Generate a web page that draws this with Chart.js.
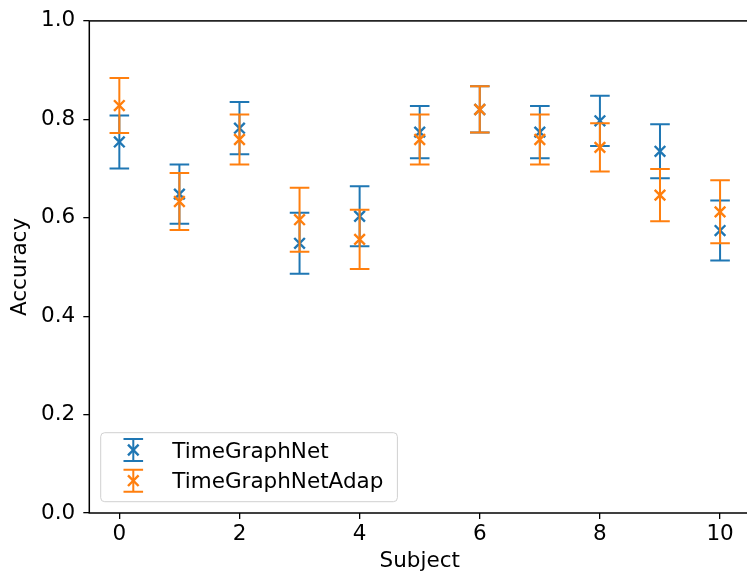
<!DOCTYPE html>
<html>
<head>
<meta charset="utf-8">
<script src="https://cdn.jsdelivr.net/npm/chart.js@4/dist/chart.umd.min.js"></script>
<style>
  html, body { margin: 0; padding: 0; overflow: hidden; background: #fff; }
  canvas { display: block; }
</style>
</head>
<body>
<canvas id="chart" width="760" height="578"></canvas>
<script>
// Per-subject accuracy (mean and spread) for both models
const subjects = [0, 1, 2, 3, 4, 5, 6, 7, 8, 9, 10];
const tgnMean  = [0.754, 0.648, 0.782, 0.548, 0.603, 0.774, 0.820, 0.774, 0.797, 0.735, 0.574];
const tgnErr   = [0.054, 0.060, 0.053, 0.062, 0.061, 0.053, 0.047, 0.053, 0.051, 0.055, 0.061];
const adapMean = [0.828, 0.633, 0.759, 0.596, 0.556, 0.759, 0.820, 0.759, 0.743, 0.646, 0.612];
const adapErr  = [0.056, 0.058, 0.051, 0.065, 0.060, 0.051, 0.047, 0.051, 0.049, 0.053, 0.064];

const seriesNames  = ['TimeGraphNet', 'TimeGraphNetAdap'];
const seriesColors = ['#1f77b4', '#ff7f0e'];
const xTicks = [0, 2, 4, 6, 8, 10];
const yTicks = [0.0, 0.2, 0.4, 0.6, 0.8, 1.0];

const FONT = { family: '"DejaVu Sans", sans-serif', size: 21.5 };
const CAP = 9.8;

function makeSeries(name, color, means, errs, order) {
  return {
    label: name,
    data: subjects.map((s, i) => ({ x: s, y: means[i] })),
    errs: errs,
    means: means,
    showLine: false,
    pointStyle: 'crossRot',
    pointRadius: 7.5,
    pointHoverRadius: 7.5,
    pointBorderWidth: 2.4,
    borderColor: color,
    backgroundColor: color,
    order: order
  };
}

// Vertical error bars with caps, drawn beneath each dataset's markers
const errorBars = {
  id: 'errorBars',
  beforeDatasetDraw(chart, args) {
    const ds = chart.data.datasets[args.index];
    const xs = chart.scales.x, ys = chart.scales.y;
    const ctx = chart.ctx;
    ctx.save();
    ctx.strokeStyle = ds.borderColor;
    ctx.lineWidth = 2;
    ds.data.forEach((p, i) => {
      const px = xs.getPixelForValue(p.x);
      const top = ys.getPixelForValue(ds.means[i] + ds.errs[i]);
      const bot = ys.getPixelForValue(ds.means[i] - ds.errs[i]);
      ctx.beginPath();
      ctx.moveTo(px, top); ctx.lineTo(px, bot);
      ctx.moveTo(px - CAP, top); ctx.lineTo(px + CAP, top);
      ctx.moveTo(px - CAP, bot); ctx.lineTo(px + CAP, bot);
      ctx.stroke();
    });
    ctx.restore();
  }
};

// Box frame around the plotting area
const frame = {
  id: 'frame',
  afterDatasetsDraw(chart) {
    const { ctx, chartArea: a } = chart;
    ctx.save();
    ctx.strokeStyle = '#000';
    ctx.lineWidth = 1.5;
    ctx.strokeRect(a.left, a.top, a.right - a.left, a.bottom - a.top);
    ctx.restore();
  }
};

// Legend in the lower-left corner with error-bar handles
const errLegend = {
  id: 'errLegend',
  afterDraw(chart) {
    const { ctx, chartArea: a } = chart;
    const bx = a.left + 11.4, by = a.bottom - 80.3, bh = 69;
    ctx.save();
    ctx.font = `${FONT.size}px ${FONT.family}`;
    const textX = bx + 71.6;
    const tw = Math.max(...seriesNames.map(n => ctx.measureText(n).width));
    const bw = textX + tw + 14 - bx;
    ctx.beginPath();
    ctx.roundRect(bx, by, bw, bh, 4);
    ctx.fillStyle = 'rgba(255,255,255,0.8)';
    ctx.fill();
    ctx.strokeStyle = '#d0d0d0';
    ctx.lineWidth = 1;
    ctx.stroke();
    const hx = bx + 32.6;
    seriesNames.forEach((name, k) => {
      const cy = by + 17.3 + k * 30.7;
      ctx.strokeStyle = seriesColors[k];
      ctx.lineWidth = 2;
      ctx.beginPath();
      ctx.moveTo(hx, cy - 11); ctx.lineTo(hx, cy + 11);
      ctx.moveTo(hx - CAP, cy - 11); ctx.lineTo(hx + CAP, cy - 11);
      ctx.moveTo(hx - CAP, cy + 11); ctx.lineTo(hx + CAP, cy + 11);
      ctx.stroke();
      ctx.lineWidth = 2.4;
      ctx.beginPath();
      ctx.moveTo(hx - 5.3, cy - 5.3); ctx.lineTo(hx + 5.3, cy + 5.3);
      ctx.moveTo(hx - 5.3, cy + 5.3); ctx.lineTo(hx + 5.3, cy - 5.3);
      ctx.stroke();
      ctx.fillStyle = '#000';
      ctx.textBaseline = 'alphabetic';
      ctx.textAlign = 'left';
      ctx.fillText(name, textX, cy + 7.5);
    });
    ctx.restore();
  }
};

new Chart(document.getElementById('chart'), {
  type: 'scatter',
  data: {
    datasets: [
      makeSeries(seriesNames[0], seriesColors[0], tgnMean, tgnErr, 2),
      makeSeries(seriesNames[1], seriesColors[1], adapMean, adapErr, 1)
    ]
  },
  options: {
    responsive: false,
    animation: false,
    devicePixelRatio: 1,
    events: [],
    layout: { padding: { top: 16.7, right: 4, left: 0, bottom: 0 } },
    plugins: { legend: { display: false }, tooltip: { enabled: false } },
    scales: {
      x: {
        type: 'linear',
        min: -0.5,
        max: 10.5,
        afterBuildTicks(s) { s.ticks = xTicks.map(v => ({ value: v })); },
        afterFit(s) { s.height = 65; },
        ticks: { color: '#000', font: FONT, padding: 3, maxRotation: 0, callback: v => String(v) },
        grid: { drawOnChartArea: false, drawTicks: true, tickLength: 6, color: '#000', lineWidth: 1.3 },
        border: { display: false },
        title: { display: true, text: 'Subject', color: '#000', font: FONT, padding: { top: 0, bottom: 3.8 } }
      },
      y: {
        type: 'linear',
        min: 0,
        max: 1,
        afterBuildTicks(s) { s.ticks = yTicks.map(v => ({ value: v })); },
        afterFit(s) { s.width = 89.3; },
        ticks: { color: '#000', font: FONT, padding: 8, callback: v => Number(v).toFixed(1) },
        grid: { drawOnChartArea: false, drawTicks: true, tickLength: 6, color: '#000', lineWidth: 1.3 },
        border: { display: false },
        title: { display: true, text: 'Accuracy', color: '#000', font: FONT, padding: { top: 7.6, bottom: 0 } }
      }
    }
  },
  plugins: [errorBars, frame, errLegend]
});
</script>
</body>
</html>
